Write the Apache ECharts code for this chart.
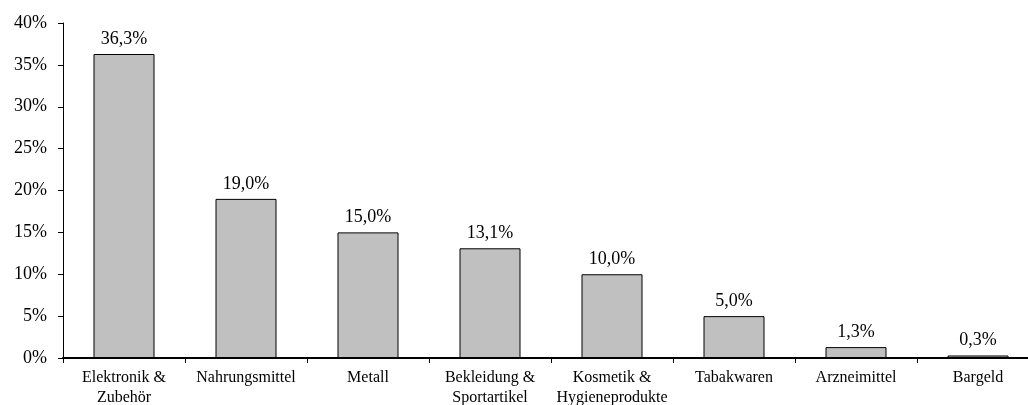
<!DOCTYPE html>
<html>
<head>
<meta charset="utf-8">
<script src="https://cdn.jsdelivr.net/npm/echarts@6/dist/echarts.min.js"></script>
<style>
  html, body { margin: 0; padding: 0; background: #fff; overflow: hidden; }
  #chart { width: 1028px; height: 405px; }
</style>
</head>
<body>
<div id="chart"></div>
<script>
// Anteile nach Warengruppe (in Prozent)
const categories = [
  'Elektronik &\nZubehör',
  'Nahrungsmittel',
  'Metall',
  'Bekleidung &\nSportartikel',
  'Kosmetik &\nHygieneprodukte',
  'Tabakwaren',
  'Arzneimittel',
  'Bargeld'
];
const shares = [36.3, 19.0, 15.0, 13.1, 10.0, 5.0, 1.3, 0.3];
const yTicks = { min: 0, max: 40, interval: 5 };

const fontFamily = '"Liberation Serif", "Times New Roman", serif';
const fmtPct = v => v.toFixed(1).replace('.', ',') + '%';

const chart = echarts.init(document.getElementById('chart'));
chart.setOption({
  animation: false,
  backgroundColor: '#ffffff',
  // fixed plot box; it runs a little past the right edge of the canvas
  grid: {
    left: 63, top: 23, width: 976, height: 335,
    containLabel: false,
    outerBoundsMode: 'none'
  },
  xAxis: {
    type: 'category',
    data: categories,
    axisLine: { show: true, lineStyle: { color: '#000', width: 2 } },
    axisTick: { show: true, length: 5, lineStyle: { color: '#000', width: 1 } },
    axisLabel: {
      interval: 0,
      color: '#000',
      fontFamily: fontFamily,
      fontSize: 16,
      lineHeight: 20,
      margin: 10
    }
  },
  yAxis: {
    type: 'value',
    min: yTicks.min,
    max: yTicks.max,
    interval: yTicks.interval,
    splitLine: { show: false },
    axisLine: { show: true, lineStyle: { color: '#000', width: 1 } },
    axisTick: { show: true, length: 5, lineStyle: { color: '#000', width: 1 } },
    axisLabel: {
      color: '#000',
      fontFamily: fontFamily,
      fontSize: 18,
      margin: 16,
      formatter: v => v + '%'
    }
  },
  series: [{
    type: 'bar',
    data: shares,
    barWidth: '50%',
    itemStyle: { color: '#c0c0c0', borderColor: '#000', borderWidth: 1 },
    label: {
      show: true,
      position: 'top',
      distance: 6,
      color: '#000',
      fontFamily: fontFamily,
      fontSize: 18,
      formatter: p => fmtPct(p.value)
    }
  }]
});
</script>
</body>
</html>
